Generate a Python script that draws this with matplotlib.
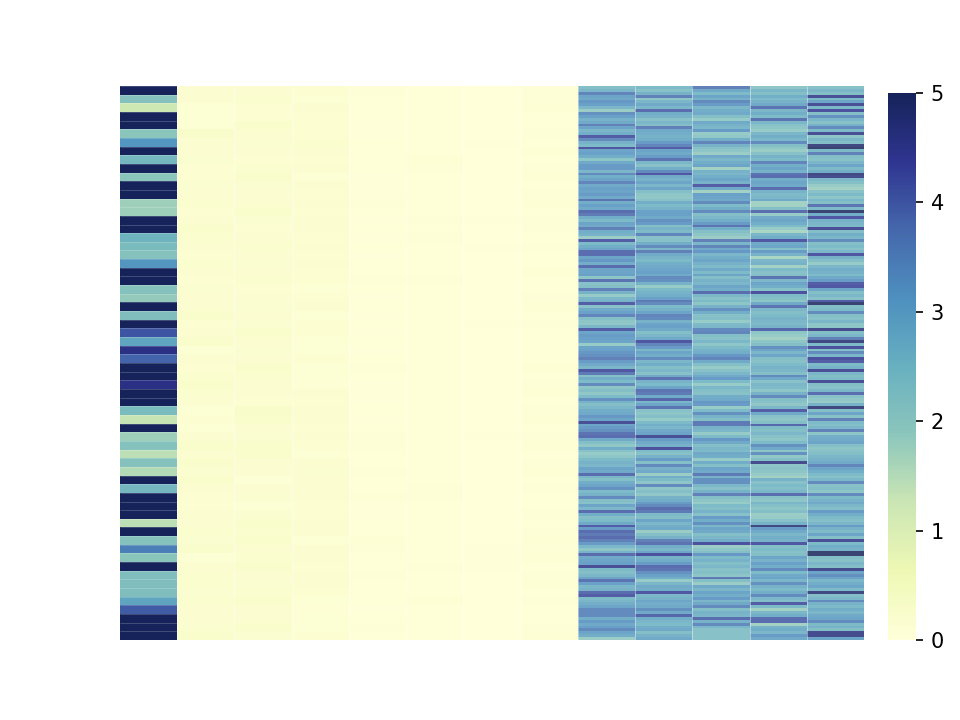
import matplotlib

matplotlib.use("Agg")
import matplotlib.pyplot as plt
import numpy as np
from matplotlib.colors import LinearSegmentedColormap

# first column, one value per block
col_a = [5, 2.0, 1.2, 5, 5, 1.9, 3.0, 5, 2.3, 5, 1.9, 5, 5, 1.7, 1.7, 5,
         5, 2.4, 2.2, 2.0, 3.0, 5, 5, 2.0, 1.8, 5, 2.1, 5, 4.0, 2.7, 4.5, 3.8,
         5, 5, 4.5, 5, 5, 2.2, 1.3, 5, 1.7, 2.0, 1.4, 2.0, 1.5, 5, 2.3, 5,
         5, 5, 1.4, 5, 2.0, 3.4, 1.9, 5, 2.1, 2.1, 2.1, 2.7, 3.9, 5, 5, 5]

# near-zero columns, same blocks
low_b = [.14, .14, .10, .10, .10, .26, .14, .16, .18, .12, .12, .18, .14, .20, .12, .14,
         .22, .20, .16, .12, .20, .14, .12, .18, .14, .16, .24, .12, .14, .22, .10, .14,
         .12, .20, .22, .20, .16, .10, .12, .10, .14, .22, .16, .23, .18, .25, .14, .12,
         .12, .14, .16, .21, .18, .25, .10, .16, .20, .21, .18, .21, .16, .14, .18, .24]
low_c = [.16, .20, .13, .13, .23, .16, .18, .15, .13, .20, .22, .18, .16, .15, .22, .18,
         .13, .15, .20, .16, .18, .15, .20, .13, .16, .18, .15, .18, .22, .15, .18, .16,
         .22, .20, .16, .16, .13, .26, .24, .15, .18, .24, .22, .16, .15, .11, .16, .18,
         .11, .18, .22, .20, .23, .15, .20, .24, .16, .18, .20, .22, .15, .16, .24, .18]
low_d = [.12, .10, .14, .12, .12, .12, .20, .15, .12, .14, .10, .15, .12, .15, .12, .14,
         .15, .12, .14, .12, .15, .12, .12, .10, .12, .14, .10, .12, .12, .10, .10, .12,
         .10, .10, .08, .14, .12, .17, .14, .12, .14, .12, .10, .17, .18, .14, .15, .14,
         .12, .12, .14, .15, .10, .15, .17, .12, .15, .14, .12, .10, .08, .10, .10, .12]
low_e = [.06, .04, .04, .04, .03, .03, .04, .04, .04, .04, .03, .03, .03, .06, .04, .03,
         .04, .03, .04, .03, .04, .04, .07, .04, .03, .04, .03, .04, .03, .04, .03, .04,
         .07, .04, .03, .03, .03, .04, .03, .04, .07, .06, .04, .04, .06, .04, .04, .06,
         .03, .03, .04, .04, .08, .07, .04, .04, .06, .04, .04, .04, .03, .04, .06, .04]
low_f = [.04, .04, .04, .04, .04, .05, .04, .05, .08, .07, .04, .05, .04, .04, .04, .07,
         .05, .07, .05, .05, .04, .05, .07, .05, .05, .05, .05, .04, .04, .05, .05, .04,
         .04, .05, .04, .04, .04, .04, .05, .05, .04, .04, .05, .05, .04, .05, .07, .07,
         .04, .05, .04, .05, .04, .05, .04, .07, .05, .05, .05, .08, .05, .04, .04, .04]
low_g = [.01, .01, .01, .01, .01, .01, .02, .01, .01, .01, .01, .01, .01, .01, .01, .02,
         .01, .01, .02, .01, .01, .01, .01, .01, .01, .01, .01, .02, .01, .01, .01, .01,
         .01, .01, .01, .01, .01, .01, .01, .01, .02, .01, .01, .01, .01, .01, .01, .01,
         .01, .01, .01, .01, .01, .02, .02, .02, .01, .01, .01, .01, .01, .01, .01, .01]
low_h = [.07, .07, .09, .05, .04, .07, .05, .09, .05, .07, .09, .04, .07, .09, .05, .07,
         .07, .05, .07, .05, .05, .09, .05, .05, .07, .09, .05, .07, .05, .05, .05, .05,
         .09, .05, .07, .09, .05, .07, .09, .05, .07, .09, .04, .07, .09, .05, .07, .05,
         .05, .07, .05, .07, .09, .07, .09, .05, .07, .09, .05, .07, .05, .05, .07, .09]

# dense columns, three rows per block
dense_a = [2.4, 2.6, 3.6, 3.0, 2.9, 3.3, 3.1, 2.6, 1.9, 3.4, 3.1, 2.7, 2.9, 3.7, 3.0, 2.6,
           2.8, 4.2, 3.5, 2.7, 2.5, 4.3, 3.0, 3.1, 2.8, 2.2, 2.9, 3.2, 3.2, 2.6, 3.5, 2.8,
           3.0, 3.6, 2.9, 3.1, 3.0, 3.2, 2.9, 3.9, 2.8, 3.1, 2.9, 4.0, 3.8, 2.8, 2.5, 3.0,
           2.9, 3.7, 2.8, 2.7, 1.9, 4.2, 2.5, 2.8, 3.0, 4.0, 4.0, 3.0, 3.3, 2.8, 4.0, 3.0,
           3.0, 3.1, 2.2, 3.9, 2.3, 2.4, 3.7, 2.7, 2.0, 2.6, 2.7, 4.2, 2.3, 2.9, 3.1, 3.6,
           2.4, 2.2, 2.1, 2.6, 4.2, 3.0, 3.2, 3.1, 3.0, 2.0, 3.0, 3.1, 3.3, 3.4, 3.7, 3.2,
           2.9, 2.6, 4.3, 3.8, 2.4, 2.8, 2.5, 3.5, 2.2, 2.4, 2.1, 2.5, 3.4, 2.7, 2.4, 2.6,
           2.8, 2.9, 3.3, 3.0, 4.5, 3.0, 3.2, 3.4, 3.9, 4.0, 2.9, 2.4, 2.1, 2.8, 2.3, 2.0,
           2.2, 2.5, 2.7, 2.6, 3.0, 2.9, 4.0, 2.6, 2.4, 2.8, 3.0, 3.4, 2.5, 2.7, 3.5, 2.4,
           2.3, 3.0, 2.6, 4.0, 2.8, 2.4, 2.5, 2.9, 4.2, 3.2, 4.0, 3.8, 4.0, 3.7, 3.2, 2.6,
           2.2, 2.7, 4.0, 2.9, 3.0, 3.1, 4.5, 2.5, 2.4, 2.6, 3.0, 3.9, 3.1, 2.6, 2.7, 4.0,
           4.2, 2.5, 2.6, 2.8, 3.0, 3.5, 3.5, 3.5, 2.8, 3.2, 2.9, 3.1, 3.5, 3.0, 2.8, 1.9]
dense_b = [2.5, 2.3, 2.7, 3.7, 2.2, 2.6, 2.9, 2.6, 4.0, 2.8, 2.7, 2.3, 2.6, 2.4, 3.7, 2.9,
           2.8, 2.7, 2.8, 3.2, 3.6, 4.2, 3.0, 2.9, 3.2, 3.9, 2.6, 2.3, 2.8, 3.5, 4.3, 2.9,
           2.7, 3.0, 2.6, 3.0, 2.4, 2.2, 2.1, 2.3, 2.8, 2.5, 2.7, 3.1, 3.1, 2.9, 3.4, 3.2,
           2.4, 2.7, 2.5, 3.6, 2.3, 2.3, 2.8, 3.5, 2.6, 3.7, 2.9, 2.7, 2.5, 2.8, 2.9, 3.0,
           3.1, 2.9, 3.5, 3.4, 2.7, 2.0, 2.5, 2.7, 2.8, 3.1, 3.8, 3.5, 2.5, 2.7, 3.0, 3.6,
           3.5, 2.7, 3.0, 3.1, 2.9, 2.4, 2.6, 2.9, 4.3, 3.6, 3.2, 2.6, 3.0, 2.8, 3.5, 2.6,
           2.8, 2.4, 2.6, 2.3, 2.9, 3.9, 2.7, 2.5, 3.0, 3.9, 3.8, 2.9, 4.1, 2.6, 3.0, 3.9,
           2.3, 2.2, 2.4, 2.0, 2.5, 2.8, 2.6, 2.9, 3.0, 4.5, 3.2, 2.9, 2.7, 4.4, 2.5, 2.3,
           2.7, 3.2, 2.4, 3.5, 2.7, 2.9, 1.9, 2.8, 2.5, 2.2, 3.5, 2.2, 2.4, 2.1, 2.7, 2.8,
           3.2, 3.5, 4.0, 3.8, 2.5, 2.4, 3.0, 2.6, 2.8, 2.9, 1.9, 2.4, 2.7, 3.7, 3.9, 2.8,
           2.6, 3.0, 4.4, 2.7, 2.8, 3.2, 4.0, 3.9, 3.4, 3.1, 2.8, 2.0, 2.6, 2.9, 2.8, 4.3,
           2.6, 2.7, 3.0, 2.8, 2.9, 3.4, 2.9, 4.1, 2.8, 2.6, 2.5, 2.8, 2.9, 2.4, 2.7, 2.9]
dense_c = [3.7, 2.9, 2.5, 3.0, 2.7, 3.5, 3.2, 2.6, 2.8, 2.9, 2.4, 2.0, 2.9, 2.7, 2.6, 3.2,
           2.0, 2.1, 2.8, 3.6, 2.7, 2.3, 2.2, 1.9, 2.9, 2.6, 2.8, 3.0, 1.8, 2.7, 2.6, 2.8,
           3.0, 2.7, 4.2, 2.9, 1.8, 3.1, 3.0, 2.9, 3.5, 2.5, 2.8, 3.5, 2.4, 2.6, 2.8, 3.2,
           3.9, 2.8, 2.4, 2.2, 1.9, 3.7, 2.6, 3.6, 2.9, 3.3, 2.6, 2.8, 3.0, 2.7, 2.5, 2.9,
           2.5, 3.0, 2.4, 2.7, 2.6, 3.0, 2.8, 4.0, 2.6, 2.3, 2.5, 2.2, 2.7, 3.4, 2.8, 2.3,
           2.4, 2.0, 2.5, 2.6, 3.5, 3.6, 2.4, 2.3, 2.6, 2.2, 2.5, 2.7, 2.8, 3.3, 3.6, 2.9,
           2.4, 2.0, 2.3, 2.6, 2.9, 3.2, 2.5, 2.0, 2.6, 2.4, 2.3, 2.8, 2.9, 3.3, 3.2, 2.0,
           2.5, 3.4, 2.7, 2.4, 3.8, 3.8, 2.7, 2.6, 2.0, 2.5, 3.3, 2.9, 2.4, 2.6, 2.5, 2.9,
           2.8, 2.0, 2.8, 2.4, 3.0, 2.9, 3.8, 2.7, 3.4, 3.4, 2.6, 2.3, 2.7, 3.7, 2.4, 2.2,
           2.0, 2.5, 2.4, 2.7, 2.3, 3.2, 2.8, 3.4, 2.6, 3.0, 2.9, 2.4, 2.6, 2.8, 4.4, 1.9,
           2.2, 2.4, 3.3, 2.5, 2.7, 2.4, 2.6, 2.3, 2.4, 2.2, 3.8, 2.4, 1.9, 2.9, 2.6, 3.0,
           2.8, 3.2, 2.6, 2.9, 3.5, 2.4, 2.7, 2.6, 4.0, 2.7, 3.5, 2.6, 2.3, 2.3, 2.3, 2.3]
dense_d = [2.2, 2.6, 2.4, 2.8, 2.5, 2.7, 2.9, 3.9, 2.6, 2.8, 2.5, 3.9, 2.6, 2.3, 2.2, 2.0,
           2.6, 2.8, 2.6, 3.5, 2.4, 2.2, 1.9, 2.3, 2.7, 2.5, 3.6, 2.8, 3.0, 2.7, 3.9, 4.0,
           2.8, 3.0, 2.9, 4.0, 2.7, 2.5, 2.6, 2.9, 1.8, 1.8, 2.4, 4.0, 2.0, 2.9, 3.0, 2.8,
           2.5, 2.0, 1.7, 2.6, 2.8, 4.3, 2.9, 3.0, 2.4, 3.2, 2.7, 1.7, 2.6, 2.7, 1.8, 2.5,
           2.3, 2.4, 3.9, 2.6, 3.0, 2.8, 2.3, 4.4, 2.5, 2.4, 2.2, 2.9, 3.9, 2.6, 2.4, 2.5,
           2.7, 2.6, 2.5, 2.7, 4.1, 2.2, 2.0, 1.8, 2.2, 2.4, 3.4, 3.0, 2.6, 3.0, 2.4, 2.3,
           2.5, 2.7, 2.6, 2.4, 3.5, 2.9, 2.3, 2.6, 2.5, 2.2, 2.7, 3.5, 2.4, 2.3, 2.1, 2.6,
           4.2, 2.9, 2.3, 2.2, 2.4, 4.1, 2.5, 2.4, 2.6, 2.3, 2.2, 2.5, 3.4, 2.9, 2.2, 3.4,
           2.1, 2.4, 4.6, 2.2, 2.3, 2.2, 2.0, 1.8, 2.7, 2.3, 2.5, 2.4, 2.6, 4.0, 2.3, 2.2,
           2.6, 2.4, 2.2, 2.4, 1.9, 2.0, 2.3, 2.7, 4.8, 3.2, 2.9, 2.6, 2.8, 2.7, 4.3, 2.4,
           2.5, 2.3, 2.4, 3.0, 2.7, 3.1, 2.8, 3.5, 2.5, 2.9, 3.0, 2.6, 3.4, 2.7, 2.5, 2.8,
           3.5, 2.6, 2.4, 4.2, 2.5, 1.8, 2.6, 2.8, 4.0, 4.0, 1.8, 2.7, 2.8, 2.6, 3.2, 2.9]
dense_e = [2.3, 2.6, 2.4, 4.5, 2.5, 3.0, 4.5, 2.6, 4.4, 2.4, 3.4, 2.6, 2.3, 2.7, 3.5, 2.5,
           4.5, 2.2, 2.6, 2.4, 4.8, 5.0, 2.5, 3.7, 2.4, 2.3, 2.6, 3.0, 2.5, 2.8, 4.8, 4.6,
           2.6, 2.4, 2.0, 1.8, 2.3, 2.5, 2.2, 2.6, 2.4, 3.9, 2.5, 5.0, 2.8, 4.3, 2.7, 2.6,
           2.5, 4.5, 2.4, 2.8, 2.6, 3.5, 2.4, 2.5, 2.3, 2.6, 4.3, 2.7, 2.4, 2.0, 2.6, 2.8,
           2.7, 2.5, 2.9, 3.2, 4.2, 4.3, 3.0, 2.4, 2.6, 2.3, 4.2, 5.0, 2.4, 2.5, 3.5, 2.4,
           2.3, 2.6, 2.2, 2.2, 4.6, 2.4, 2.6, 3.7, 4.8, 2.5, 4.4, 2.4, 3.5, 2.6, 4.4, 4.2,
           2.5, 2.7, 4.5, 2.6, 2.4, 2.5, 4.5, 2.4, 2.3, 2.6, 4.0, 2.3, 2.1, 2.0, 2.7, 4.8,
           2.4, 3.0, 2.3, 3.7, 2.5, 2.4, 2.6, 3.7, 2.2, 2.8, 2.9, 3.0, 2.4, 2.2, 2.3, 2.4,
           2.6, 2.7, 2.9, 3.6, 3.0, 2.8, 2.5, 2.3, 2.6, 3.5, 2.3, 2.4, 2.2, 3.5, 2.5, 2.7,
           2.9, 2.6, 2.4, 3.2, 2.8, 2.5, 2.4, 2.6, 3.2, 2.7, 2.5, 3.0, 2.4, 4.5, 2.5, 2.8,
           2.7, 5.0, 5.0, 2.4, 2.3, 2.6, 2.4, 4.6, 3.0, 3.4, 3.0, 2.6, 2.8, 3.0, 2.5, 4.8,
           2.4, 2.6, 3.5, 2.7, 2.5, 2.8, 2.6, 2.9, 3.0, 3.5, 2.5, 2.7, 2.4, 4.6, 4.6, 3.0]
tick_vals = [0, 1, 2, 3, 4, 5]
cmap_colors = ["#ffffd9", "#eef8b4", "#cbe6b4", "#8cc6bc", "#68b0c0",
               "#4e90bf", "#4568ac", "#2f3590", "#16235a"]

left = np.array([col_a, low_b, low_c, low_d, low_e, low_f, low_g, low_h]).T
right = np.array([dense_a, dense_b, dense_c, dense_d, dense_e]).T
n_left, n_right = left.shape[1], right.shape[1]
n_blocks = left.shape[0]

cmap = LinearSegmentedColormap.from_list("washed_ylgnbu", cmap_colors)

fig = plt.figure(figsize=(6.4, 4.8), dpi=150)
ax = fig.add_axes([120 / 960, 80 / 720, 744 / 960, 554 / 720])

# coarse block on the left, fine stripes on the right (a bit paler there)
y_left = np.linspace(0, n_blocks, n_blocks + 1)
y_right = np.linspace(0, n_blocks, right.shape[0] + 1)
mesh = ax.pcolormesh(np.arange(n_left + 1), y_left, left, cmap=cmap, vmin=0, vmax=5)
ax.pcolormesh(np.arange(n_left, n_left + n_right + 1), y_right, right,
              cmap=cmap, vmin=0, vmax=5, alpha=0.85)

# faint cell borders
ax.hlines(y_left, 0, 1, color="white", lw=0.3, alpha=0.3)
ax.vlines(np.arange(1, n_left + n_right), 0, n_blocks, color="white", lw=0.4, alpha=0.5)

ax.set_xlim(0, n_left + n_right)
ax.set_ylim(n_blocks, 0)
ax.axis("off")

cax = fig.add_axes([888 / 960, 80 / 720, 28 / 960, 547 / 720])
cbar = fig.colorbar(mesh, cax=cax)
cbar.set_ticks(tick_vals)
cbar.outline.set_visible(False)

fig.savefig("out.png", dpi=150)
plt.close(fig)
